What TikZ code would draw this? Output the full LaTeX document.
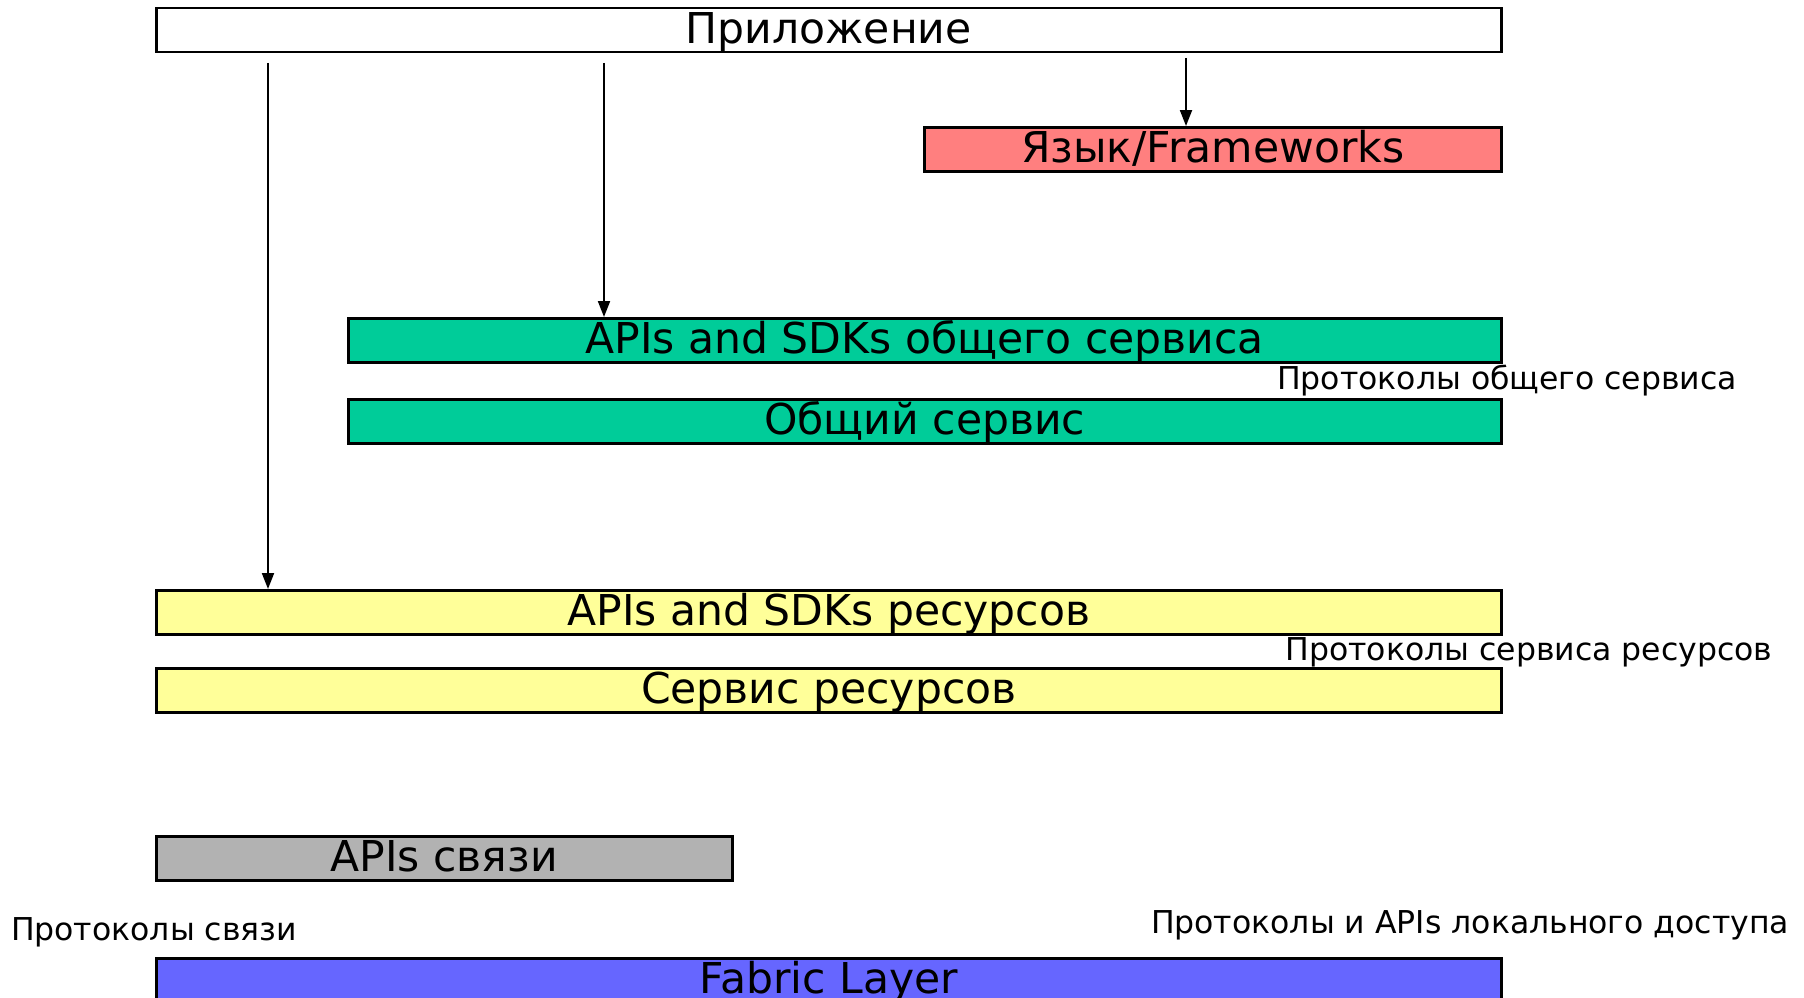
\documentclass[tikz,border=0pt]{standalone}
\usepackage{fontspec}
\setmainfont{DejaVu Sans}
\usetikzlibrary{arrows.meta}
\definecolor{layerred}{HTML}{FF7F7F}
\definecolor{layergreen}{HTML}{00CC99}
\definecolor{layeryellow}{HTML}{FFFF99}
\definecolor{layergrey}{HTML}{B2B2B2}
\definecolor{layerblue}{HTML}{6666FF}
\newcommand{\bigtext}{\fontsize{42.5}{50}\selectfont}
\newcommand{\smalltext}{\fontsize{31.5}{38}\selectfont}

\begin{document}
\begin{tikzpicture}[
  x=1pt,
  y=-1pt,
  layer/.style={draw=black, line width=2.5pt, anchor=north west, inner sep=0pt,
    minimum height=44pt, text height=31pt, text depth=4pt, font=\bigtext, text=black},
  proto/.style={font=\smalltext, inner sep=0pt, text=black},
  link/.style={black, line width=2pt, -{Triangle[length=16pt,width=12pt]}}
]
  % ---- page, cut at the bottom like the original slide ---------------------
  \useasboundingbox (0,0) rectangle (1804,998);
  \clip (0,0) rectangle (1804,998);

  % ---- application and language layers ---------------------------------
  \node[layer, fill=white, minimum width=1345pt] (app) at (155,7) {Приложение};
  \node[layer, fill=layerred, minimum width=577pt] (lang) at (923,126) {Язык/Frameworks};

  % ---- collective service ----------------------------------------------
  \node[layer, fill=layergreen, minimum width=1153pt] (collapi) at (347,317) {APIs and SDKs общего сервиса};
  \node[layer, fill=layergreen, minimum width=1153pt] (coll) at (347,398) {Общий сервис};
  \node[proto] (collproto) at (1507,381) {Протоколы общего сервиса};

  % ---- resource service ------------------------------------------------
  \node[layer, fill=layeryellow, minimum width=1345pt] (resapi) at (155,589) {APIs and SDKs ресурсов};
  \node[layer, fill=layeryellow, minimum width=1345pt] (res) at (155,667) {Сервис ресурсов};
  \node[proto] (resproto) at (1529,652) {Протоколы сервиса ресурсов};

  % ---- connectivity and fabric -----------------------------------------
  \node[layer, fill=layergrey, minimum width=576pt] (conn) at (155,835) {APIs связи};
  \node[proto] (connproto) at (154,932) {Протоколы связи};
  \node[proto] (localproto) at (1470,925) {Протоколы и APIs локального доступа};
  \node[layer, fill=layerblue, minimum width=1345pt] (fabric) at (155,957) {Fabric Layer};

  % ---- calls from the application --------------------------------------
  \coordinate (toRes) at (268,63);
  \coordinate (toColl) at (604,63);
  \coordinate (toLang) at (1186,58);
  \draw[link] (toRes) -- (toRes |- resapi.north);
  \draw[link] (toColl) -- (toColl |- collapi.north);
  \draw[link] (toLang) -- (toLang |- lang.north);
\end{tikzpicture}
\end{document}
